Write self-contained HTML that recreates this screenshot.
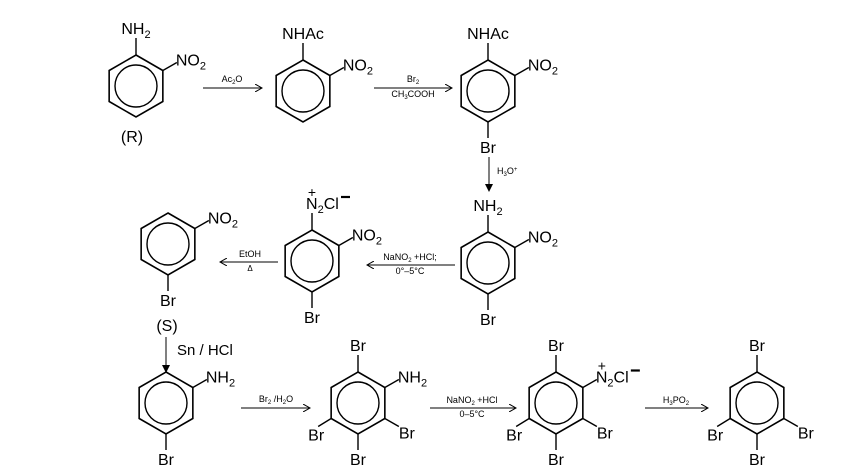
<!DOCTYPE html>
<html><head><meta charset="utf-8"><style>
html,body{margin:0;padding:0;background:#fff;width:860px;height:474px;overflow:hidden}
svg text{font-family:"Liberation Sans",Arial,sans-serif;fill:#000}
</style></head><body>
<svg id="s" width="860" height="474" viewBox="0 0 860 474" xmlns="http://www.w3.org/2000/svg">
<defs><marker id="ah" markerWidth="8" markerHeight="8" refX="7" refY="4" orient="auto" markerUnits="userSpaceOnUse"><path d="M0,0 L7,4 L0,8" fill="none" stroke="#000" stroke-width="1"/></marker>
<marker id="ahf" markerWidth="8" markerHeight="12" refX="7" refY="4" orient="auto" markerUnits="userSpaceOnUse"><path d="M0,0 L8,4 L0,8 Z" fill="#000"/></marker></defs>
</svg>
<script>
var s=document.getElementById('s'),NS='http://www.w3.org/2000/svg',o='';
var R=31,H=R*0.866;
var labs=[];
function ring(cx,cy,subs){
 var p=[[cx,cy-R],[cx+H,cy-R/2],[cx+H,cy+R/2],[cx,cy+R],[cx-H,cy+R/2],[cx-H,cy-R/2]];
 o+='<polygon points="'+p.map(function(q){return q.join(',')}).join(' ')+'" fill="none" stroke="#000" stroke-width="1.6"/>';
 o+='<circle cx="'+cx+'" cy="'+cy+'" r="21" fill="none" stroke="#000" stroke-width="1.4"/>';
 for(var k in subs){var t=subs[k];var v=p[k];var e;
  if(k==0)e=[cx,cy-R-17];if(k==1)e=[v[0]+14,v[1]-8];if(k==2)e=[v[0]+14,v[1]+8];
  if(k==3)e=[cx,cy+R+16];if(k==4)e=[v[0]-13,v[1]+8];if(k==5)e=[v[0]-14,v[1]-8];
  o+='<line x1="'+v[0]+'" y1="'+v[1]+'" x2="'+e[0]+'" y2="'+e[1]+'" stroke="#000" stroke-width="1.4"/>';
  var x,y,a;
  if(k==0){x=e[0];y=e[1]-4;a='middle';}
  if(k==1){x=e[0]-1;y=e[1]+3;a='start';}
  if(k==2){x=e[0];y=e[1]+12;a='start';}
  if(k==3){x=e[0];y=e[1]+15;a='middle';}
  if(k==4){x=e[0]+6;y=e[1]+14;a='end';}
  if(t.indexOf('Cl')>=0){ if(k==0){x=e[0]-6;a='start';} diaz(x,y); }
  o+='<text x="'+x+'" y="'+y+'" font-size="16" text-anchor="'+a+'">'+t+'</text>';
 }
}
var NH2='NH<tspan font-size="11" dy="4">2</tspan>';
var NO2='NO<tspan font-size="11" dy="4">2</tspan>';
var N2='N<tspan font-size="11" dy="4">2</tspan><tspan dy="-4">Cl</tspan>';
function arrow(x1,y1,x2,y2,f){o+='<line x1="'+x1+'" y1="'+y1+'" x2="'+x2+'" y2="'+y2+'" stroke="#000" stroke-width="1" marker-end="url(#'+(f?'ahf':'ah')+')"/>';}
function t(x,y,str,sz,a){o+='<text x="'+x+'" y="'+y+'" font-size="'+(sz||9)+'" text-anchor="'+(a||'middle')+'">'+str+'</text>';}
function diaz(x,y){t(x+6,y-12,'+',14);o+='<line x1="'+(x+35)+'" y1="'+(y-12)+'" x2="'+(x+44)+'" y2="'+(y-12)+'" stroke="#000" stroke-width="2.2"/>';}
// row1
ring(136,86,{0:NH2,1:NO2}); t(132,142,'(R)',16);
arrow(203,88,262,88); t(232,82,'Ac<tspan font-size="6" dy="2">2</tspan><tspan dy="-2">O</tspan>');
ring(303,91,{0:'NHAc',1:NO2});
arrow(374,88,452,88); t(413,82,'Br<tspan font-size="6" dy="2">2</tspan>'); t(413,97,'CH<tspan font-size="6" dy="2">3</tspan><tspan dy="-2">COOH</tspan>');
ring(488,91,{0:'NHAc',1:NO2,3:'Br'});
// vertical
arrow(489,157,489,191,1); t(497,174,'H<tspan font-size="6" dy="2">3</tspan><tspan dy="-2">O</tspan><tspan font-size="6" dy="-3">+</tspan>',9,'start');
// row2
ring(488,263,{0:NH2,1:NO2,3:'Br'});
arrow(455,265,367,265); t(410,260,'NaNO<tspan font-size="6" dy="2">2</tspan><tspan dy="-2"> +HCl;</tspan>'); t(410,274,'0°–5°C');
ring(312,261,{0:N2,1:NO2,3:'Br'});
arrow(278,262,220,262); t(250,257,'EtOH'); t(250,271,'Δ',8);
ring(168,244,{1:NO2,3:'Br'});
t(167,331,'(S)',16);
arrow(166,337,166,372,1); t(177,355,'Sn / HCl',15,'start');
// row3
ring(166,403,{1:NH2,3:'Br'});
arrow(241,408,310,408); t(276,402,'Br<tspan font-size="6" dy="2">2</tspan><tspan dy="-2"> /H</tspan><tspan font-size="6" dy="2">2</tspan><tspan dy="-2">O</tspan>');
ring(358,403,{0:'Br',1:NH2,2:'Br',3:'Br',4:'Br'});
arrow(430,408,516,408); t(472,403,'NaNO<tspan font-size="6" dy="2">2</tspan><tspan dy="-2"> +HCl</tspan>'); t(472,417,'0–5°C');
ring(556,403,{0:'Br',1:N2,2:'Br',3:'Br',4:'Br'});
arrow(645,408,708,408); t(676,403,'H<tspan font-size="6" dy="2">3</tspan><tspan dy="-2">PO</tspan><tspan font-size="6" dy="2">2</tspan>');
ring(757,403,{0:'Br',2:'Br',3:'Br',4:'Br'});
s.insertAdjacentHTML('beforeend',o);
</script>
</body></html>
